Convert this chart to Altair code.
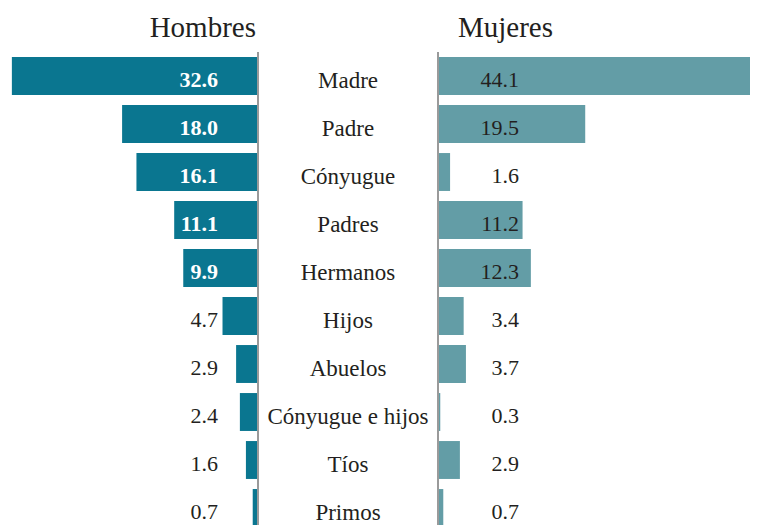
import altair as alt
import pandas as pd

categorias = ["Madre", "Padre", "Cónyugue", "Padres", "Hermanos", "Hijos",
              "Abuelos", "Cónyugue e hijos", "Tíos", "Primos"]
hombres = [32.6, 18.0, 16.1, 11.1, 9.9, 4.7, 2.9, 2.4, 1.6, 0.7]
mujeres = [44.1, 19.5, 1.6, 11.2, 12.3, 3.4, 3.7, 0.3, 2.9, 0.7]

df = pd.DataFrame({"cat": categorias, "h": hombres, "m": mujeres})

FONT = "Liberation Serif"
TXT = "#231F20"
C_H = "#0A7690"
C_M = "#639DA6"
GRAY = "#9A9A9A"
PX = 7.55  # pixels per percentage point
W_L, W_M, W_R, H = 250, 180, 312, 480

yscale = alt.Scale(domain=categorias, paddingInner=0.21, paddingOuter=0.105)
Y = alt.Y("cat:N", scale=yscale, axis=None, sort=categorias)

xl = alt.Scale(domain=[0, W_L / PX], reverse=True, nice=False, zero=True)
xr = alt.Scale(domain=[0, W_R / PX], nice=False, zero=True)

base = alt.Chart(df)

left = alt.layer(
    base.mark_bar(color=C_H).encode(x=alt.X("h:Q", scale=xl, axis=None), y=Y),
    base.transform_filter("datum.h > 6").mark_text(
        align="right", baseline="alphabetic", dy=11, font=FONT, fontSize=22,
        fontWeight="bold", color="white"
    ).encode(x=alt.datum(5.3), y=Y, text=alt.Text("h:Q", format=".1f")),
    base.transform_filter("datum.h <= 6").mark_text(
        align="right", baseline="alphabetic", dy=11, font=FONT, fontSize=22,
        color=TXT
    ).encode(x=alt.datum(5.3), y=Y, text=alt.Text("h:Q", format=".1f")),
    base.mark_rule(color=GRAY, strokeWidth=2).encode(x=alt.datum(0)),
).properties(
    width=W_L, height=H,
    title=alt.TitleParams("Hombres", anchor="end", font=FONT, fontSize=29,
                          fontWeight="normal", color=TXT, baseline="alphabetic",
                          offset=-15, dx=-3),
)

mid = base.mark_text(
    align="center", baseline="alphabetic", dy=12, font=FONT, fontSize=23, color=TXT
).encode(y=Y, text="cat:N").properties(width=W_M, height=H)

right = alt.layer(
    base.mark_bar(color=C_M, clip=True).encode(x=alt.X("m:Q", scale=xr, axis=None), y=Y),
    base.mark_text(
        align="right", baseline="alphabetic", dy=11, font=FONT, fontSize=22, color=TXT
    ).encode(x=alt.datum(10.73), y=Y, text=alt.Text("m:Q", format=".1f")),
    base.mark_rule(color=GRAY, strokeWidth=2).encode(x=alt.datum(0)),
).properties(
    width=W_R, height=H,
    title=alt.TitleParams("Mujeres", anchor="start", font=FONT, fontSize=29,
                          fontWeight="normal", color=TXT, baseline="alphabetic",
                          offset=-15, dx=21),
)

chart = alt.hconcat(left, mid, right, spacing=0, bounds="flush").properties(
    padding={"left": 0, "top": 6, "right": 0, "bottom": 0}
).configure_view(stroke=None)

chart.save("out.html", embed_options={"renderer": "svg", "actions": False})
